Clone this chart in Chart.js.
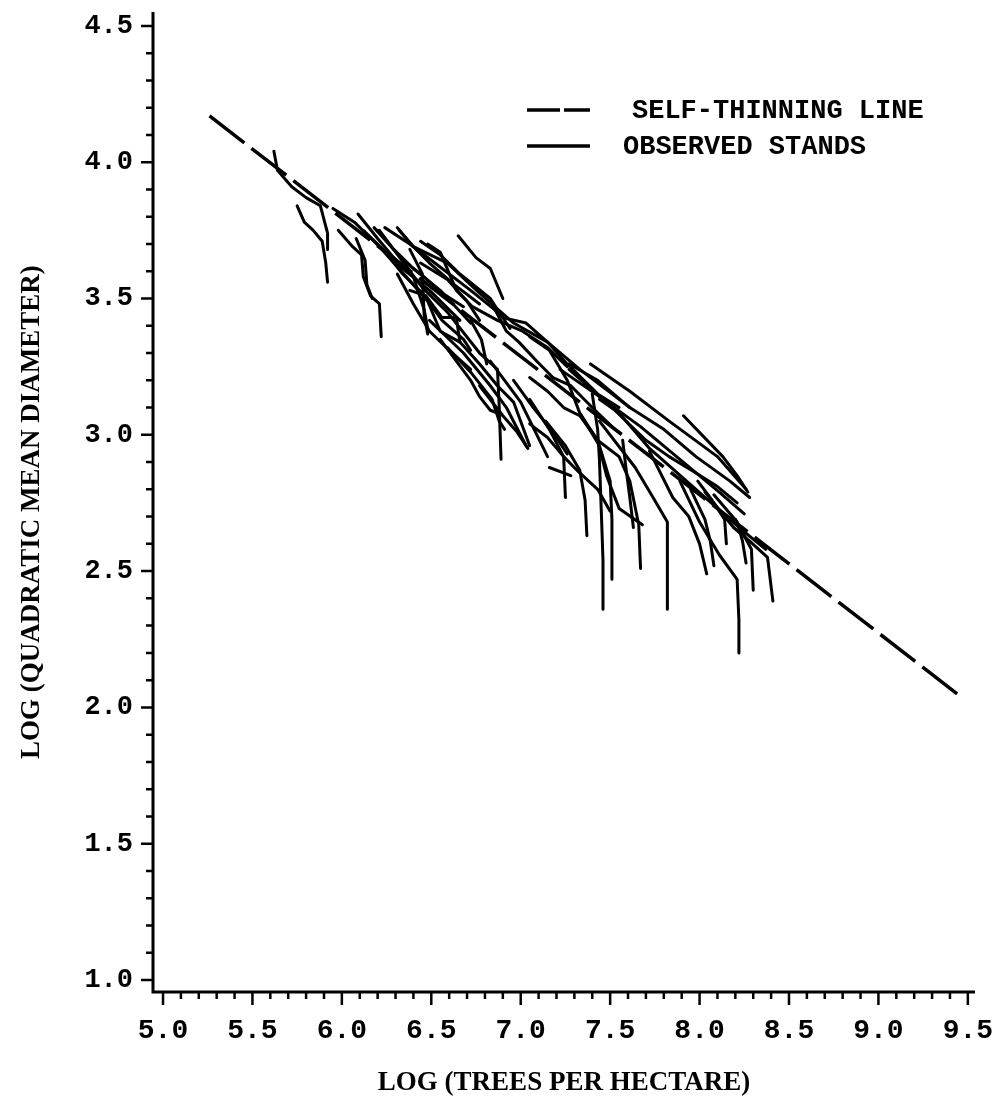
<!DOCTYPE html>
<html>
<head>
<meta charset="utf-8">
<script src="https://cdn.jsdelivr.net/npm/chart.js@4.4.1/dist/chart.umd.min.js"></script>
<style>
  html, body { margin: 0; padding: 0; background: #fff; }
  #wrap { width: 993px; height: 1105px; position: relative; }
</style>
</head>
<body>
<div id="wrap"><canvas id="thinningChart"></canvas></div>
<script>
// axis ticks (log units)
const xTickValues = [5.0, 5.5, 6.0, 6.5, 7.0, 7.5, 8.0, 8.5, 9.0, 9.5];
const yTickValues = [1.0, 1.5, 2.0, 2.5, 3.0, 3.5, 4.0, 4.5];

// self-thinning boundary, end points
const thinningX = [5.26, 9.44];
const thinningY = [4.17, 2.05];

// observed stand trajectories, [log trees/ha, log Dq] per remeasurement
const standsLowDensity = [
    [[5.62, 4.04], [5.64, 3.97], [5.72, 3.91], [5.80, 3.87], [5.88, 3.84], [5.92, 3.74], [5.92, 3.68]],
    [[5.75, 3.84], [5.79, 3.78], [5.84, 3.75], [5.89, 3.71], [5.91, 3.63], [5.92, 3.56]],
    [[5.98, 3.75], [6.06, 3.69], [6.11, 3.66], [6.12, 3.58], [6.16, 3.51], [6.21, 3.48], [6.22, 3.36]],
    [[6.08, 3.72], [6.13, 3.64], [6.14, 3.55], [6.17, 3.50]],
    [[5.95, 3.83], [6.07, 3.78], [6.21, 3.69], [6.32, 3.62], [6.49, 3.53], [6.66, 3.42]],
    [[6.09, 3.81], [6.20, 3.72], [6.29, 3.65], [6.40, 3.58], [6.46, 3.46], [6.48, 3.39]]
];

const standsMidDensity = [
    [[6.18, 3.76], [6.29, 3.68], [6.40, 3.61], [6.55, 3.53], [6.72, 3.41]],
    [[6.31, 3.76], [6.40, 3.69], [6.49, 3.63], [6.63, 3.55], [6.77, 3.48]],
    [[6.24, 3.76], [6.38, 3.70], [6.52, 3.63], [6.72, 3.53], [6.89, 3.44]],
    [[6.44, 3.71], [6.55, 3.66], [6.66, 3.59], [6.83, 3.50], [6.94, 3.39]],
    [[6.38, 3.68], [6.45, 3.59], [6.46, 3.44], [6.48, 3.37]],
    [[6.21, 3.75], [6.45, 3.54], [6.59, 3.45], [6.77, 3.30], [6.87, 3.24], [6.88, 3.10], [6.89, 2.91]],
    [[6.21, 3.69], [6.36, 3.58], [6.48, 3.49], [6.55, 3.38], [6.66, 3.34], [6.77, 3.26], [6.87, 3.18], [6.96, 3.12], [7.05, 2.96]],
    [[6.32, 3.75], [6.40, 3.69], [6.59, 3.63], [6.77, 3.52], [6.96, 3.41], [7.15, 3.34], [7.33, 3.24], [7.51, 3.15], [7.61, 3.10]],
    [[6.48, 3.70], [6.55, 3.67], [6.64, 3.53], [6.73, 3.47], [6.87, 3.42], [7.01, 3.38], [7.15, 3.32], [7.26, 3.25]],
    [[6.44, 3.63], [6.59, 3.57], [6.70, 3.49], [6.77, 3.42]],
    [[6.65, 3.73], [6.75, 3.65], [6.83, 3.61], [6.90, 3.50]],
    [[6.84, 3.48], [6.90, 3.43], [7.03, 3.41], [7.15, 3.34], [7.26, 3.26], [7.43, 3.15], [7.55, 3.10]],
    [[6.84, 3.48], [6.92, 3.38], [6.99, 3.34], [7.09, 3.27], [7.18, 3.21], [7.28, 3.18], [7.40, 3.10], [7.51, 3.03]],
    [[6.72, 3.42], [6.78, 3.35], [6.81, 3.26]],
    [[6.49, 3.42], [6.68, 3.30], [6.83, 3.18], [6.92, 3.10], [7.03, 2.96]],
    [[6.59, 3.32], [6.72, 3.23], [6.84, 3.13], [6.88, 3.05], [6.91, 3.02]],
    [[6.96, 3.20], [7.07, 3.10], [7.18, 3.01], [7.26, 2.93]],
    [[6.12, 3.75], [6.23, 3.68], [6.34, 3.59], [6.45, 3.52], [6.56, 3.42], [6.68, 3.35], [6.72, 3.31]],
    [[6.20, 3.75], [6.34, 3.64], [6.44, 3.59], [6.56, 3.52], [6.68, 3.47]],
    [[6.31, 3.59], [6.40, 3.48], [6.49, 3.38], [6.60, 3.31], [6.72, 3.24]],
    [[6.38, 3.53], [6.47, 3.51], [6.56, 3.43], [6.64, 3.43], [6.66, 3.34]],
    [[6.83, 3.27], [7.00, 3.12], [7.15, 2.92]],
    [[7.16, 2.88], [7.28, 2.85]],
    [[7.05, 3.13], [7.16, 3.02], [7.24, 2.92], [7.25, 2.77]],
    [[7.14, 3.05], [7.25, 2.96], [7.33, 2.87], [7.36, 2.76], [7.37, 2.63]],
    [[6.55, 3.35], [6.72, 3.20], [6.77, 3.14], [6.83, 3.09], [6.87, 3.08]],
    [[6.77, 3.18], [6.90, 3.07], [6.98, 3.01], [7.04, 2.95]]
];

const standsHighDensity = [
    [[7.27, 3.26], [7.43, 3.20], [7.61, 3.10], [7.80, 3.02], [7.98, 2.92], [8.17, 2.83], [8.28, 2.77]],
    [[7.39, 3.26], [7.61, 3.16], [7.83, 3.05], [8.10, 2.92], [8.26, 2.80]],
    [[7.91, 3.07], [8.13, 2.92], [8.21, 2.85], [8.27, 2.79]],
    [[7.27, 3.24], [7.51, 3.10], [7.70, 2.98], [7.83, 2.92], [7.98, 2.86], [8.10, 2.81], [8.21, 2.75]],
    [[7.40, 3.15], [7.43, 3.02], [7.44, 2.91], [7.45, 2.73], [7.46, 2.54], [7.46, 2.36]],
    [[7.33, 3.08], [7.44, 2.96], [7.50, 2.83], [7.51, 2.69], [7.51, 2.47]],
    [[7.05, 3.36], [7.16, 3.31], [7.26, 3.20], [7.33, 3.08], [7.43, 2.98], [7.48, 2.85], [7.55, 2.73], [7.68, 2.67]],
    [[7.05, 3.21], [7.15, 3.16], [7.24, 3.10], [7.33, 3.07], [7.43, 2.98], [7.55, 2.92], [7.61, 2.83], [7.66, 2.67], [7.67, 2.51]],
    [[7.05, 3.04], [7.15, 2.99], [7.24, 2.92], [7.33, 2.86], [7.43, 2.80], [7.50, 2.72]],
    [[7.57, 2.98], [7.59, 2.87], [7.61, 2.77], [7.63, 2.66]],
    [[7.44, 3.05], [7.64, 2.88], [7.74, 2.77], [7.82, 2.68], [7.82, 2.54], [7.82, 2.36]],
    [[7.72, 2.94], [7.85, 2.77], [7.94, 2.70], [8.00, 2.60], [8.04, 2.49]],
    [[7.95, 2.80], [8.03, 2.69], [8.06, 2.61], [8.08, 2.52]],
    [[7.89, 2.83], [8.00, 2.68], [8.11, 2.56], [8.21, 2.47], [8.22, 2.32], [8.22, 2.20]],
    [[7.99, 2.83], [8.07, 2.76], [8.14, 2.69], [8.15, 2.60]],
    [[8.03, 2.79], [8.19, 2.66], [8.28, 2.61], [8.38, 2.55], [8.41, 2.39]],
    [[8.08, 2.78], [8.21, 2.68], [8.24, 2.61], [8.26, 2.53]],
    [[8.20, 2.69], [8.29, 2.58], [8.30, 2.43]],
    [[7.44, 3.13], [7.55, 3.08], [7.72, 2.95], [7.91, 2.84], [8.10, 2.73], [8.22, 2.66], [8.37, 2.58]],
    [[7.22, 3.24], [7.44, 3.14], [7.67, 3.03], [7.89, 2.91], [8.11, 2.79], [8.25, 2.71]]
];

const legendItems = ['SELF-THINNING LINE', 'OBSERVED STANDS'];

const MONO = '"Liberation Mono", "Courier New", monospace';
const SERIF = '"Liberation Serif", "Times New Roman", serif';

function standDataset(points) {
    return {
        data: points.map(([x, y]) => ({ x, y })),
        showLine: true,
        borderColor: '#000',
        borderWidth: 3,
        borderCapStyle: 'round',
        borderJoinStyle: 'round',
        pointRadius: 0,
        tension: 0
    };
}

// split a list of major ticks into fifths for the minor marks
function minorValues(majors) {
    const out = [];
    for (let i = 0; i < majors.length - 1; i++) {
        const step = (majors[i + 1] - majors[i]) / 5;
        for (let k = 1; k < 5; k++) out.push(majors[i] + k * step);
    }
    return out;
}

// tick labels may hang past the plot edges; keep the plot box fixed
function noEdgePadding(s) {
    s.paddingLeft = 0;
    s.paddingRight = 0;
    s.paddingTop = 0;
    s.paddingBottom = 0;
}

const axisFrame = {
    id: 'axisFrame',
    afterDraw(chart) {
        const { ctx, chartArea: a, scales: { x, y } } = chart;
        ctx.save();
        ctx.strokeStyle = '#000';
        ctx.lineCap = 'butt';

        ctx.lineWidth = 3;
        ctx.beginPath();
        ctx.moveTo(a.left, a.top);
        ctx.lineTo(a.left, a.bottom);
        ctx.lineTo(a.right, a.bottom);
        ctx.stroke();

        ctx.lineWidth = 2.5;
        ctx.beginPath();
        xTickValues.forEach(v => {
            const px = x.getPixelForValue(v);
            ctx.moveTo(px, a.bottom);
            ctx.lineTo(px, a.bottom + 13);
        });
        minorValues(xTickValues).forEach(v => {
            const px = x.getPixelForValue(v);
            ctx.moveTo(px, a.bottom);
            ctx.lineTo(px, a.bottom + 7);
        });
        yTickValues.forEach(v => {
            const py = y.getPixelForValue(v);
            ctx.moveTo(a.left, py);
            ctx.lineTo(a.left - 12, py);
        });
        minorValues(yTickValues).forEach(v => {
            const py = y.getPixelForValue(v);
            ctx.moveTo(a.left, py);
            ctx.lineTo(a.left - 7, py);
        });
        ctx.stroke();

        // legend
        ctx.lineWidth = 3.5;
        ctx.setLineDash([33, 4]);
        ctx.beginPath();
        ctx.moveTo(527, 110);
        ctx.lineTo(590, 110);
        ctx.stroke();
        ctx.setLineDash([]);
        ctx.beginPath();
        ctx.moveTo(527, 146);
        ctx.lineTo(590, 146);
        ctx.stroke();

        ctx.fillStyle = '#000';
        ctx.font = 'bold 27px ' + MONO;
        ctx.textBaseline = 'middle';
        ctx.textAlign = 'left';
        ctx.fillText(legendItems[0], 632, 111);
        ctx.fillText(legendItems[1], 623, 147);
        ctx.restore();
    }
};

const datasets = [
    {
        data: thinningX.map((x, i) => ({ x, y: thinningY[i] })),
        showLine: true,
        borderColor: '#000',
        borderWidth: 3.5,
        borderDash: [44, 9],
        pointRadius: 0
    },
    ...standsLowDensity.map(standDataset),
    ...standsMidDensity.map(standDataset),
    ...standsHighDensity.map(standDataset)
];

new Chart(document.getElementById('thinningChart'), {
    type: 'scatter',
    data: { datasets },
    plugins: [axisFrame],
    options: {
        responsive: true,
        maintainAspectRatio: false,
        animation: false,
        layout: { padding: { top: 12, right: 18, left: 0, bottom: 0 } },
        plugins: { legend: { display: false }, tooltip: { enabled: false } },
        scales: {
            x: {
                type: 'linear',
                min: 4.944,
                max: 9.54,
                afterBuildTicks: (s) => { s.ticks = xTickValues.map(v => ({ value: v })); },
                afterFit: (s) => { s.height = 113; noEdgePadding(s); },
                ticks: {
                    callback: (v) => Number(v).toFixed(1),
                    font: { family: MONO, weight: 'bold', size: 28 },
                    color: '#000',
                    padding: 22,
                    maxRotation: 0,
                    autoSkip: false
                },
                grid: { display: false, drawTicks: false },
                border: { display: false },
                title: {
                    display: true,
                    text: 'LOG (TREES PER HECTARE)',
                    font: { family: SERIF, weight: 'bold', size: 27 },
                    color: '#000',
                    padding: { top: 0, bottom: 6 }
                }
            },
            y: {
                type: 'linear',
                min: 0.956,
                max: 4.551,
                afterBuildTicks: (s) => { s.ticks = yTickValues.map(v => ({ value: v })); },
                afterFit: (s) => { s.width = 153; noEdgePadding(s); },
                ticks: {
                    callback: (v) => Number(v).toFixed(1),
                    font: { family: MONO, weight: 'bold', size: 27 },
                    color: '#000',
                    padding: 20,
                    autoSkip: false
                },
                grid: { display: false, drawTicks: false },
                border: { display: false },
                title: {
                    display: true,
                    // trailing spaces nudge the rotated title a little lower
                    text: 'LOG (QUADRATIC MEAN DIAMETER)   ',
                    font: { family: SERIF, weight: 'bold', size: 27 },
                    color: '#000',
                    padding: { top: 16, bottom: 0 }
                }
            }
        }
    }
});
</script>
</body>
</html>
